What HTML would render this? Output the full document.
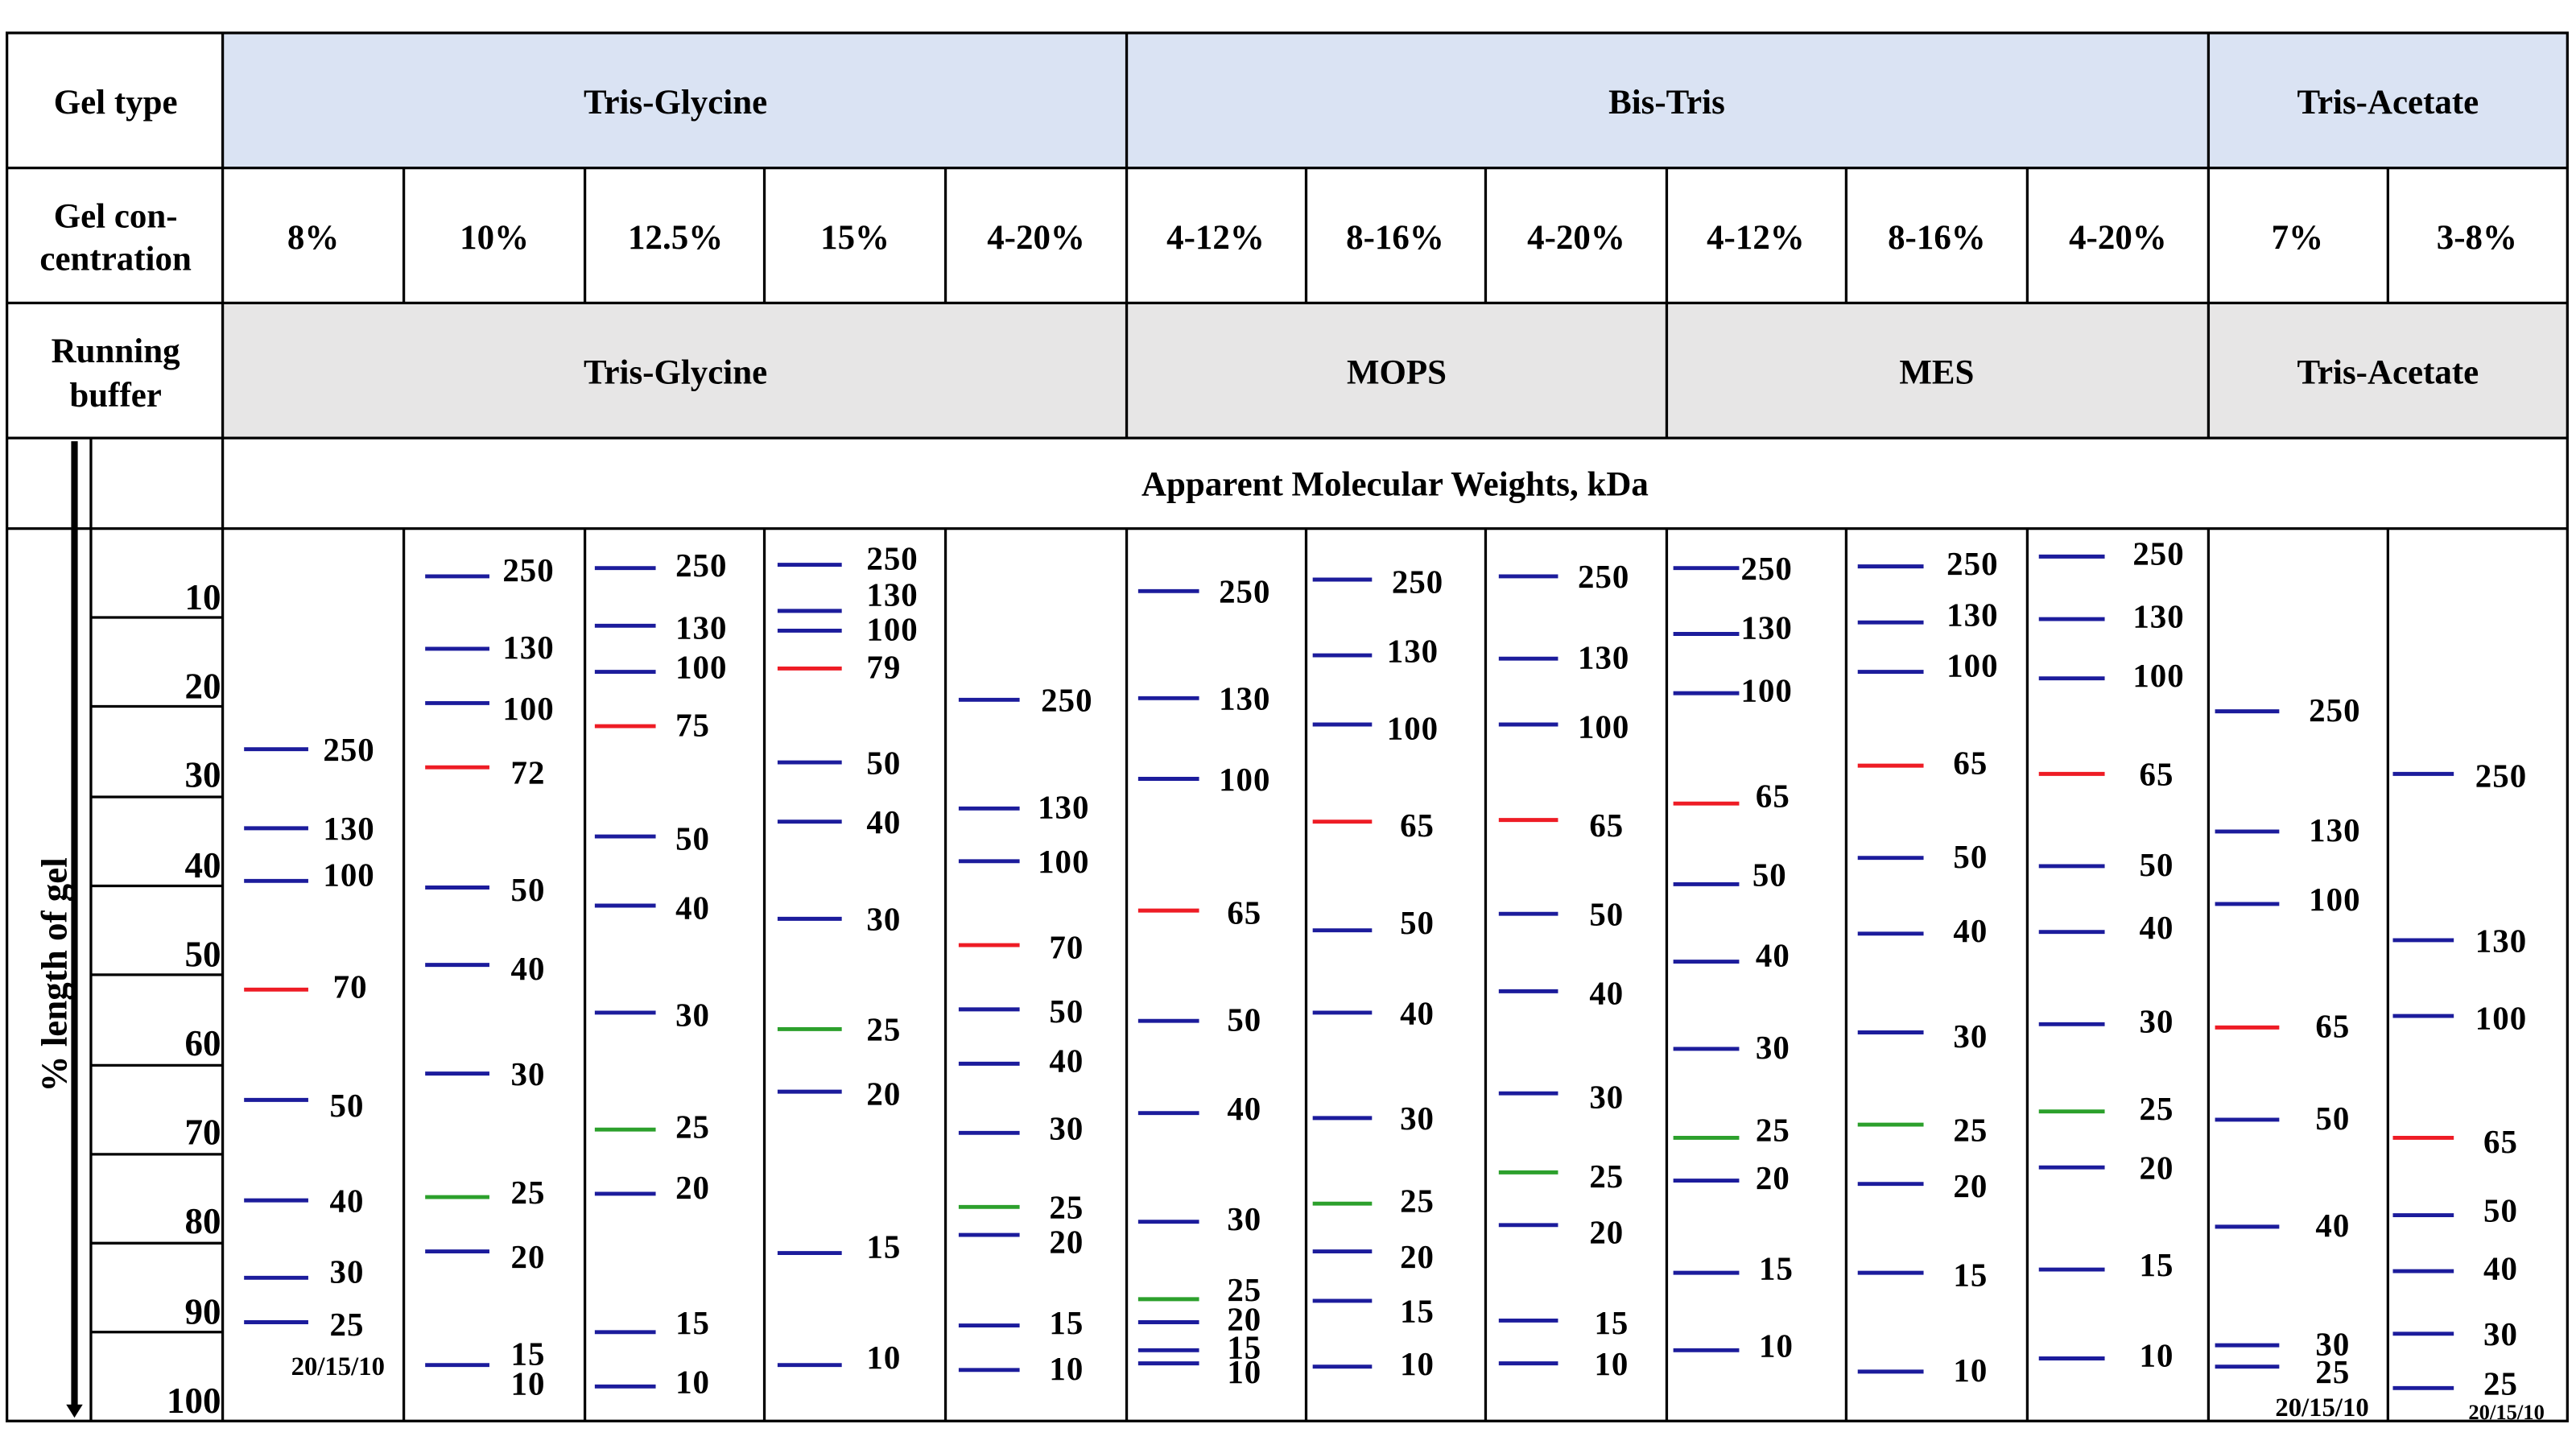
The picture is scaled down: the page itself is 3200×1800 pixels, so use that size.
<!DOCTYPE html>
<html><head><meta charset="utf-8"><style>
html,body{margin:0;padding:0;background:#fff}
svg{display:block}
text{font-family:"Liberation Serif",serif;font-weight:bold;fill:#000}
.h{font-size:21px;text-anchor:middle}
.k{font-size:22px;text-anchor:end}
.t{font-size:20px;letter-spacing:0.5px}
.b,.r,.g{stroke-width:2.4}
.b{stroke:#1c1c9c}.r{stroke:#ee1c25}.g{stroke:#2ca02c}
.L{stroke:#000;stroke-width:1.6;fill:none}
</style></head><body>
<svg width="3200" height="1800" viewBox="0 0 1564 880" xmlns="http://www.w3.org/2000/svg">
<rect x="0" y="0" width="1564" height="880" fill="#fff"/>
<rect x="135" y="20" width="1424" height="82" fill="#dae3f3"/>
<rect x="135" y="184" width="1424" height="82" fill="#e7e6e6"/>
<g class="L">
<rect x="4" y="20" width="1555" height="843"/>
<line x1="4" y1="102" x2="1559" y2="102"/><line x1="4" y1="184" x2="1559" y2="184"/>
<line x1="4" y1="266" x2="1559" y2="266"/><line x1="4" y1="321" x2="1559" y2="321"/>
<line x1="135" y1="20" x2="135" y2="863"/><line x1="684" y1="20" x2="684" y2="102"/><line x1="1341" y1="20" x2="1341" y2="102"/>
<line x1="245" y1="102" x2="245" y2="184"/><line x1="355" y1="102" x2="355" y2="184"/><line x1="464" y1="102" x2="464" y2="184"/><line x1="574" y1="102" x2="574" y2="184"/><line x1="684" y1="102" x2="684" y2="184"/><line x1="793" y1="102" x2="793" y2="184"/><line x1="902" y1="102" x2="902" y2="184"/><line x1="1012" y1="102" x2="1012" y2="184"/><line x1="1121" y1="102" x2="1121" y2="184"/><line x1="1231" y1="102" x2="1231" y2="184"/><line x1="1341" y1="102" x2="1341" y2="184"/><line x1="1450" y1="102" x2="1450" y2="184"/>
<line x1="684" y1="184" x2="684" y2="266"/><line x1="1012" y1="184" x2="1012" y2="266"/><line x1="1341" y1="184" x2="1341" y2="266"/>
<line x1="245" y1="321" x2="245" y2="863"/><line x1="355" y1="321" x2="355" y2="863"/><line x1="464" y1="321" x2="464" y2="863"/><line x1="574" y1="321" x2="574" y2="863"/><line x1="684" y1="321" x2="684" y2="863"/><line x1="793" y1="321" x2="793" y2="863"/><line x1="902" y1="321" x2="902" y2="863"/><line x1="1012" y1="321" x2="1012" y2="863"/><line x1="1121" y1="321" x2="1121" y2="863"/><line x1="1231" y1="321" x2="1231" y2="863"/><line x1="1341" y1="321" x2="1341" y2="863"/><line x1="1450" y1="321" x2="1450" y2="863"/>
<line x1="55" y1="266" x2="55" y2="863"/>
<line x1="55" y1="375" x2="135" y2="375"/><line x1="55" y1="429" x2="135" y2="429"/><line x1="55" y1="484" x2="135" y2="484"/><line x1="55" y1="538" x2="135" y2="538"/><line x1="55" y1="592" x2="135" y2="592"/><line x1="55" y1="647" x2="135" y2="647"/><line x1="55" y1="701" x2="135" y2="701"/><line x1="55" y1="755" x2="135" y2="755"/><line x1="55" y1="809" x2="135" y2="809"/>
</g>
<line x1="45" y1="268" x2="45" y2="854" stroke="#000" stroke-width="4"/>
<polygon points="40,853 50,853 45,861" fill="#000"/>
<text transform="translate(40,592) rotate(-90)" style="font-size:22px;text-anchor:middle">% length of gel</text>
<text class="h" x="70" y="69">Gel type</text>
<text class="h" x="70" y="138">Gel con-</text><text class="h" x="70" y="164">centration</text>
<text class="h" x="70" y="220">Running</text><text class="h" x="70" y="247">buffer</text>
<text class="h" x="410" y="69">Tris-Glycine</text><text class="h" x="1012" y="69">Bis-Tris</text><text class="h" x="1450" y="69">Tris-Acetate</text>
<text class="h" x="190" y="151">8%</text><text class="h" x="300" y="151">10%</text><text class="h" x="410" y="151">12.5%</text><text class="h" x="519" y="151">15%</text><text class="h" x="629" y="151">4-20%</text><text class="h" x="738" y="151">4-12%</text><text class="h" x="847" y="151">8-16%</text><text class="h" x="957" y="151">4-20%</text><text class="h" x="1066" y="151">4-12%</text><text class="h" x="1176" y="151">8-16%</text><text class="h" x="1286" y="151">4-20%</text><text class="h" x="1395" y="151">7%</text><text class="h" x="1504" y="151">3-8%</text>
<text class="h" x="410" y="233">Tris-Glycine</text><text class="h" x="848" y="233">MOPS</text><text class="h" x="1176" y="233">MES</text><text class="h" x="1450" y="233">Tris-Acetate</text>
<text class="h" x="847" y="301">Apparent Molecular Weights, kDa</text>
<text class="k" x="134" y="370">10</text><text class="k" x="134" y="424">20</text><text class="k" x="134" y="478">30</text><text class="k" x="134" y="533">40</text><text class="k" x="134" y="587">50</text><text class="k" x="134" y="641">60</text><text class="k" x="134" y="695">70</text><text class="k" x="134" y="749">80</text><text class="k" x="134" y="804">90</text><text class="k" x="134" y="858">100</text>

<!-- col1 -->
<line class="b" x1="148" x2="187" y1="455" y2="455"/><text class="t" x="196" y="462">250</text>
<line class="b" x1="148" x2="187" y1="503" y2="503"/><text class="t" x="196" y="510">130</text>
<line class="b" x1="148" x2="187" y1="535" y2="535"/><text class="t" x="196" y="538">100</text>
<line class="r" x1="148" x2="187" y1="601" y2="601"/><text class="t" x="202" y="606">70</text>
<line class="b" x1="148" x2="187" y1="668" y2="668"/><text class="t" x="200" y="678">50</text>
<line class="b" x1="148" x2="187" y1="729" y2="729"/><text class="t" x="200" y="736">40</text>
<line class="b" x1="148" x2="187" y1="776" y2="776"/><text class="t" x="200" y="779">30</text>
<line class="b" x1="148" x2="187" y1="803" y2="803"/><text class="t" x="200" y="811">25</text>
<text x="205" y="835" style="font-size:16px;text-anchor:middle">20/15/10</text>
<!-- col2 -->
<line class="b" x1="258" x2="297" y1="350" y2="350"/><text class="t" x="305" y="353">250</text>
<line class="b" x1="258" x2="297" y1="394" y2="394"/><text class="t" x="305" y="400">130</text>
<line class="b" x1="258" x2="297" y1="427" y2="427"/><text class="t" x="305" y="437">100</text>
<line class="r" x1="258" x2="297" y1="466" y2="466"/><text class="t" x="310" y="476">72</text>
<line class="b" x1="258" x2="297" y1="539" y2="539"/><text class="t" x="310" y="547">50</text>
<line class="b" x1="258" x2="297" y1="586" y2="586"/><text class="t" x="310" y="595">40</text>
<line class="b" x1="258" x2="297" y1="652" y2="652"/><text class="t" x="310" y="659">30</text>
<line class="g" x1="258" x2="297" y1="727" y2="727"/><text class="t" x="310" y="731">25</text>
<line class="b" x1="258" x2="297" y1="760" y2="760"/><text class="t" x="310" y="770">20</text>
<line class="b" x1="258" x2="297" y1="829" y2="829"/><text class="t" x="310" y="829">15</text><text class="t" x="310" y="847">10</text>
<!-- col3 -->
<line class="b" x1="361" x2="398" y1="345" y2="345"/><text class="t" x="410" y="350">250</text>
<line class="b" x1="361" x2="398" y1="380" y2="380"/><text class="t" x="410" y="388">130</text>
<line class="b" x1="361" x2="398" y1="408" y2="408"/><text class="t" x="410" y="412">100</text>
<line class="r" x1="361" x2="398" y1="441" y2="441"/><text class="t" x="410" y="447">75</text>
<line class="b" x1="361" x2="398" y1="508" y2="508"/><text class="t" x="410" y="516">50</text>
<line class="b" x1="361" x2="398" y1="550" y2="550"/><text class="t" x="410" y="558">40</text>
<line class="b" x1="361" x2="398" y1="615" y2="615"/><text class="t" x="410" y="623">30</text>
<line class="g" x1="361" x2="398" y1="686" y2="686"/><text class="t" x="410" y="691">25</text>
<line class="b" x1="361" x2="398" y1="725" y2="725"/><text class="t" x="410" y="728">20</text>
<line class="b" x1="361" x2="398" y1="809" y2="809"/><text class="t" x="410" y="810">15</text>
<line class="b" x1="361" x2="398" y1="842" y2="842"/><text class="t" x="410" y="846">10</text>
<!-- col4 -->
<line class="b" x1="472" x2="511" y1="343" y2="343"/><text class="t" x="526" y="346">250</text>
<line class="b" x1="472" x2="511" y1="371" y2="371"/><text class="t" x="526" y="368">130</text>
<line class="b" x1="472" x2="511" y1="383" y2="383"/><text class="t" x="526" y="389">100</text>
<line class="r" x1="472" x2="511" y1="406" y2="406"/><text class="t" x="526" y="412">79</text>
<line class="b" x1="472" x2="511" y1="463" y2="463"/><text class="t" x="526" y="470">50</text>
<line class="b" x1="472" x2="511" y1="499" y2="499"/><text class="t" x="526" y="506">40</text>
<line class="b" x1="472" x2="511" y1="558" y2="558"/><text class="t" x="526" y="565">30</text>
<line class="g" x1="472" x2="511" y1="625" y2="625"/><text class="t" x="526" y="632">25</text>
<line class="b" x1="472" x2="511" y1="663" y2="663"/><text class="t" x="526" y="671">20</text>
<line class="b" x1="472" x2="511" y1="761" y2="761"/><text class="t" x="526" y="764">15</text>
<line class="b" x1="472" x2="511" y1="829" y2="829"/><text class="t" x="526" y="831">10</text>
<!-- col5 -->
<line class="b" x1="582" x2="619" y1="425" y2="425"/><text class="t" x="632" y="432">250</text>
<line class="b" x1="582" x2="619" y1="491" y2="491"/><text class="t" x="630" y="497">130</text>
<line class="b" x1="582" x2="619" y1="523" y2="523"/><text class="t" x="630" y="530">100</text>
<line class="r" x1="582" x2="619" y1="574" y2="574"/><text class="t" x="637" y="582">70</text>
<line class="b" x1="582" x2="619" y1="613" y2="613"/><text class="t" x="637" y="621">50</text>
<line class="b" x1="582" x2="619" y1="646" y2="646"/><text class="t" x="637" y="651">40</text>
<line class="b" x1="582" x2="619" y1="688" y2="688"/><text class="t" x="637" y="692">30</text>
<line class="g" x1="582" x2="619" y1="733" y2="733"/><text class="t" x="637" y="740">25</text>
<line class="b" x1="582" x2="619" y1="750" y2="750"/><text class="t" x="637" y="761">20</text>
<line class="b" x1="582" x2="619" y1="805" y2="805"/><text class="t" x="637" y="810">15</text>
<line class="b" x1="582" x2="619" y1="832" y2="832"/><text class="t" x="637" y="838">10</text>
<!-- col6 -->
<line class="b" x1="691" x2="728" y1="359" y2="359"/><text class="t" x="740" y="366">250</text>
<line class="b" x1="691" x2="728" y1="424" y2="424"/><text class="t" x="740" y="431">130</text>
<line class="b" x1="691" x2="728" y1="473" y2="473"/><text class="t" x="740" y="480">100</text>
<line class="r" x1="691" x2="728" y1="553" y2="553"/><text class="t" x="745" y="561">65</text>
<line class="b" x1="691" x2="728" y1="620" y2="620"/><text class="t" x="745" y="626">50</text>
<line class="b" x1="691" x2="728" y1="676" y2="676"/><text class="t" x="745" y="680">40</text>
<line class="b" x1="691" x2="728" y1="742" y2="742"/><text class="t" x="745" y="747">30</text>
<line class="g" x1="691" x2="728" y1="789" y2="789"/><text class="t" x="745" y="790">25</text>
<line class="b" x1="691" x2="728" y1="803" y2="803"/><text class="t" x="745" y="808">20</text>
<line class="b" x1="691" x2="728" y1="820" y2="820"/><text class="t" x="745" y="825">15</text>
<line class="b" x1="691" x2="728" y1="828" y2="828"/><text class="t" x="745" y="840">10</text>
<!-- col7 -->
<line class="b" x1="797" x2="833" y1="352" y2="352"/><text class="t" x="845" y="360">250</text>
<line class="b" x1="797" x2="833" y1="398" y2="398"/><text class="t" x="842" y="402">130</text>
<line class="b" x1="797" x2="833" y1="440" y2="440"/><text class="t" x="842" y="449">100</text>
<line class="r" x1="797" x2="833" y1="499" y2="499"/><text class="t" x="850" y="508">65</text>
<line class="b" x1="797" x2="833" y1="565" y2="565"/><text class="t" x="850" y="567">50</text>
<line class="b" x1="797" x2="833" y1="615" y2="615"/><text class="t" x="850" y="622">40</text>
<line class="b" x1="797" x2="833" y1="679" y2="679"/><text class="t" x="850" y="686">30</text>
<line class="g" x1="797" x2="833" y1="731" y2="731"/><text class="t" x="850" y="736">25</text>
<line class="b" x1="797" x2="833" y1="760" y2="760"/><text class="t" x="850" y="770">20</text>
<line class="b" x1="797" x2="833" y1="790" y2="790"/><text class="t" x="850" y="803">15</text>
<line class="b" x1="797" x2="833" y1="830" y2="830"/><text class="t" x="850" y="835">10</text>
<!-- col8 -->
<line class="b" x1="910" x2="946" y1="350" y2="350"/><text class="t" x="958" y="357">250</text>
<line class="b" x1="910" x2="946" y1="400" y2="400"/><text class="t" x="958" y="406">130</text>
<line class="b" x1="910" x2="946" y1="440" y2="440"/><text class="t" x="958" y="448">100</text>
<line class="r" x1="910" x2="946" y1="498" y2="498"/><text class="t" x="965" y="508">65</text>
<line class="b" x1="910" x2="946" y1="555" y2="555"/><text class="t" x="965" y="562">50</text>
<line class="b" x1="910" x2="946" y1="602" y2="602"/><text class="t" x="965" y="610">40</text>
<line class="b" x1="910" x2="946" y1="664" y2="664"/><text class="t" x="965" y="673">30</text>
<line class="g" x1="910" x2="946" y1="712" y2="712"/><text class="t" x="965" y="721">25</text>
<line class="b" x1="910" x2="946" y1="744" y2="744"/><text class="t" x="965" y="755">20</text>
<line class="b" x1="910" x2="946" y1="802" y2="802"/><text class="t" x="968" y="810">15</text>
<line class="b" x1="910" x2="946" y1="828" y2="828"/><text class="t" x="968" y="835">10</text>
<!-- col9 -->
<line class="b" x1="1016" x2="1056" y1="345" y2="345"/><text class="t" x="1057" y="352">250</text>
<line class="b" x1="1016" x2="1056" y1="385" y2="385"/><text class="t" x="1057" y="388">130</text>
<line class="b" x1="1016" x2="1056" y1="421" y2="421"/><text class="t" x="1057" y="426">100</text>
<line class="r" x1="1016" x2="1056" y1="488" y2="488"/><text class="t" x="1066" y="490">65</text>
<line class="b" x1="1016" x2="1056" y1="537" y2="537"/><text class="t" x="1064" y="538">50</text>
<line class="b" x1="1016" x2="1056" y1="584" y2="584"/><text class="t" x="1066" y="587">40</text>
<line class="b" x1="1016" x2="1056" y1="637" y2="637"/><text class="t" x="1066" y="643">30</text>
<line class="g" x1="1016" x2="1056" y1="691" y2="691"/><text class="t" x="1066" y="693">25</text>
<line class="b" x1="1016" x2="1056" y1="717" y2="717"/><text class="t" x="1066" y="722">20</text>
<line class="b" x1="1016" x2="1056" y1="773" y2="773"/><text class="t" x="1068" y="777">15</text>
<line class="b" x1="1016" x2="1056" y1="820" y2="820"/><text class="t" x="1068" y="824">10</text>
<!-- col10 -->
<line class="b" x1="1128" x2="1168" y1="344" y2="344"/><text class="t" x="1182" y="349">250</text>
<line class="b" x1="1128" x2="1168" y1="378" y2="378"/><text class="t" x="1182" y="380">130</text>
<line class="b" x1="1128" x2="1168" y1="408" y2="408"/><text class="t" x="1182" y="411">100</text>
<line class="r" x1="1128" x2="1168" y1="465" y2="465"/><text class="t" x="1186" y="470">65</text>
<line class="b" x1="1128" x2="1168" y1="521" y2="521"/><text class="t" x="1186" y="527">50</text>
<line class="b" x1="1128" x2="1168" y1="567" y2="567"/><text class="t" x="1186" y="572">40</text>
<line class="b" x1="1128" x2="1168" y1="627" y2="627"/><text class="t" x="1186" y="636">30</text>
<line class="g" x1="1128" x2="1168" y1="683" y2="683"/><text class="t" x="1186" y="693">25</text>
<line class="b" x1="1128" x2="1168" y1="719" y2="719"/><text class="t" x="1186" y="727">20</text>
<line class="b" x1="1128" x2="1168" y1="773" y2="773"/><text class="t" x="1186" y="781">15</text>
<line class="b" x1="1128" x2="1168" y1="833" y2="833"/><text class="t" x="1186" y="839">10</text>
<!-- col11 -->
<line class="b" x1="1238" x2="1278" y1="338" y2="338"/><text class="t" x="1295" y="343">250</text>
<line class="b" x1="1238" x2="1278" y1="376" y2="376"/><text class="t" x="1295" y="381">130</text>
<line class="b" x1="1238" x2="1278" y1="412" y2="412"/><text class="t" x="1295" y="417">100</text>
<line class="r" x1="1238" x2="1278" y1="470" y2="470"/><text class="t" x="1299" y="477">65</text>
<line class="b" x1="1238" x2="1278" y1="526" y2="526"/><text class="t" x="1299" y="532">50</text>
<line class="b" x1="1238" x2="1278" y1="566" y2="566"/><text class="t" x="1299" y="570">40</text>
<line class="b" x1="1238" x2="1278" y1="622" y2="622"/><text class="t" x="1299" y="627">30</text>
<line class="g" x1="1238" x2="1278" y1="675" y2="675"/><text class="t" x="1299" y="680">25</text>
<line class="b" x1="1238" x2="1278" y1="709" y2="709"/><text class="t" x="1299" y="716">20</text>
<line class="b" x1="1238" x2="1278" y1="771" y2="771"/><text class="t" x="1299" y="775">15</text>
<line class="b" x1="1238" x2="1278" y1="825" y2="825"/><text class="t" x="1299" y="830">10</text>
<!-- col12 -->
<line class="b" x1="1345" x2="1384" y1="432" y2="432"/><text class="t" x="1402" y="438">250</text>
<line class="b" x1="1345" x2="1384" y1="505" y2="505"/><text class="t" x="1402" y="511">130</text>
<line class="b" x1="1345" x2="1384" y1="549" y2="549"/><text class="t" x="1402" y="553">100</text>
<line class="r" x1="1345" x2="1384" y1="624" y2="624"/><text class="t" x="1406" y="630">65</text>
<line class="b" x1="1345" x2="1384" y1="680" y2="680"/><text class="t" x="1406" y="686">50</text>
<line class="b" x1="1345" x2="1384" y1="745" y2="745"/><text class="t" x="1406" y="751">40</text>
<line class="b" x1="1345" x2="1384" y1="817" y2="817"/><text class="t" x="1406" y="823">30</text>
<line class="b" x1="1345" x2="1384" y1="830" y2="830"/><text class="t" x="1406" y="840">25</text>
<text x="1410" y="860" style="font-size:16px;text-anchor:middle">20/15/10</text>
<!-- col13 -->
<line class="b" x1="1453" x2="1490" y1="470" y2="470"/><text class="t" x="1503" y="478">250</text>
<line class="b" x1="1453" x2="1490" y1="571" y2="571"/><text class="t" x="1503" y="578">130</text>
<line class="b" x1="1453" x2="1490" y1="617" y2="617"/><text class="t" x="1503" y="625">100</text>
<line class="r" x1="1453" x2="1490" y1="691" y2="691"/><text class="t" x="1508" y="700">65</text>
<line class="b" x1="1453" x2="1490" y1="738" y2="738"/><text class="t" x="1508" y="742">50</text>
<line class="b" x1="1453" x2="1490" y1="772" y2="772"/><text class="t" x="1508" y="777">40</text>
<line class="b" x1="1453" x2="1490" y1="810" y2="810"/><text class="t" x="1508" y="817">30</text>
<line class="b" x1="1453" x2="1490" y1="843" y2="843"/><text class="t" x="1508" y="847">25</text>
<text x="1522" y="862" style="font-size:13px;text-anchor:middle">20/15/10</text>
</svg>
</body></html>
